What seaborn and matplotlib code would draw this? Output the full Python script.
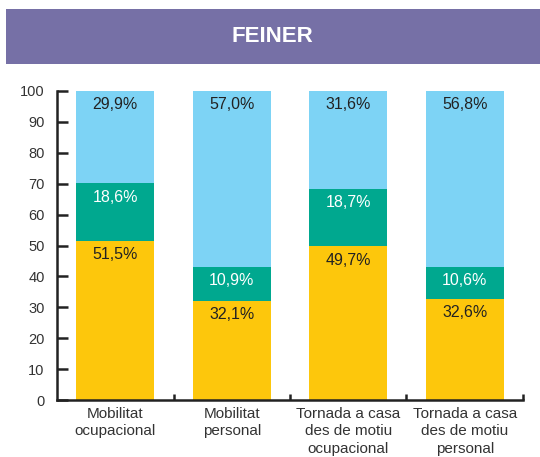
import matplotlib
matplotlib.use("Agg")
import matplotlib.pyplot as plt
import seaborn as sns
import pandas as pd
import numpy as np

## data
categories = ["Mobilitat\nocupacional", "Mobilitat\npersonal",
              "Tornada a casa\ndes de motiu\nocupacional", "Tornada a casa\ndes de motiu\npersonal"]
yellow_vals = [51.5, 32.1, 49.7, 32.6]
green_vals = [18.6, 10.9, 18.7, 10.6]
blue_vals = [29.9, 57.0, 31.6, 56.8]
title = "FEINER"

## colours
c_yellow = "#FDC70C"
c_green = "#00A88F"
c_blue = "#7DD3F5"
c_banner = "#7670A6"

sns.set_style("white")
plt.rcParams['font.family'] = ['Liberation Sans', 'DejaVu Sans']

df = pd.DataFrame({"cat": categories, "yellow": yellow_vals, "green": green_vals, "blue": blue_vals})
df["cum_green"] = df["yellow"] + df["green"]
df["cum_blue"] = df["cum_green"] + df["blue"]

fig = plt.figure(figsize=(5.4, 4.57), dpi=100)
ax = fig.add_axes([0.1056, 0.1247, 0.8629, 0.6762])

## stacked bars drawn as overlapping cumulative bars
sns.barplot(data=df, x="cat", y="cum_blue", color=c_blue, width=0.67, saturation=1, linewidth=0, ax=ax)
sns.barplot(data=df, x="cat", y="cum_green", color=c_green, width=0.67, saturation=1, linewidth=0, ax=ax)
sns.barplot(data=df, x="cat", y="yellow", color=c_yellow, width=0.67, saturation=1, linewidth=0, ax=ax)

## segment labels
def fmt(v):
    return f"{v:.1f}".replace(".", ",") + "%"

for i in range(len(categories)):
    ax.text(i, df["cum_blue"][i] - 2.0, fmt(blue_vals[i]), ha="center", va="top", fontsize=11.5, color="#222222")
    ax.text(i, df["cum_green"][i] - 2.0, fmt(green_vals[i]), ha="center", va="top", fontsize=11.5, color="white")
    ax.text(i, yellow_vals[i] - 2.0, fmt(yellow_vals[i]), ha="center", va="top", fontsize=11.5, color="#222222")

## axes styling
ax.set_xlim(-0.5, 3.5)
ax.set_ylim(0, 100)
ax.set_xlabel("")
ax.set_ylabel("")
ax.set_yticks(np.arange(0, 101, 10))
ax.tick_params(axis="y", direction="in", length=8, width=1.8, color="#222222",
               labelsize=10.5, labelcolor="#333333", pad=9, left=True)
ax.set_xticks(range(len(categories)))
ax.set_xticklabels(categories, fontsize=11, color="#333333", linespacing=1.3)
ax.tick_params(axis="x", which="major", length=0, pad=5)
ax.set_xticks([0.5, 1.5, 2.5, 3.5], minor=True)
ax.tick_params(axis="x", which="minor", direction="in", length=4, width=1.8,
               color="#222222", bottom=True)
for s in ["top", "right"]:
    ax.spines[s].set_visible(False)
for s in ["left", "bottom"]:
    ax.spines[s].set_linewidth(1.8)
    ax.spines[s].set_color("#222222")

## title banner
fig.patches.append(plt.Rectangle((0.011, 0.860), 0.989, 0.120, transform=fig.transFigure,
                                 facecolor=c_banner, edgecolor="none"))
fig.text(0.505, 0.920, title, ha="center", va="center", fontsize=16, fontweight="bold", color="white")

plt.savefig("out.png", dpi=100)
plt.close()
